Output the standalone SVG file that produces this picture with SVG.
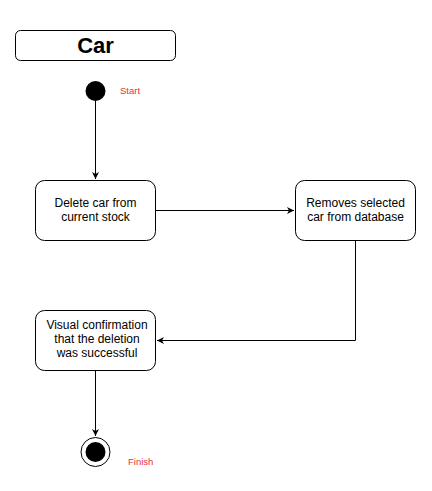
<svg xmlns="http://www.w3.org/2000/svg" width="432" height="491" viewBox="0 0 432 491">
<defs>
<marker id="ah" markerWidth="10" markerHeight="10" refX="8" refY="5" orient="auto" markerUnits="userSpaceOnUse">
<path d="M1,1.5 L8,5 L1,8.5 L3,5 Z" fill="#000"/>
</marker>
<style>
.box{fill:#fff;stroke:#000;stroke-width:1}
.t{font-family:"Liberation Sans",Arial,sans-serif;font-size:12px;fill:#000;text-anchor:middle}
.lbl{font-family:"Liberation Sans",Arial,sans-serif;font-size:9.5px;fill:#e8303a}
.c{fill:none;stroke:#000;stroke-width:1;marker-end:url(#ah)}
</style>
</defs>
<rect width="432" height="491" fill="#fff"/>
<g id="title">
<rect class="box" x="15.5" y="30.5" width="160" height="30" rx="5"/>
<text x="95.5" y="53" font-family="'Liberation Sans',Arial,sans-serif" font-size="22" font-weight="bold" text-anchor="middle">Car</text>
</g>
<g id="connectors">
<path class="c" d="M95.5,101 L95.5,179"/>
<path class="c" d="M155.5,210.5 L294,210.5"/>
<path class="c" d="M355.5,240 L355.5,340.5 L157,340.5"/>
<path class="c" d="M95.5,370 L95.5,436"/>
</g>
<g id="start">
<circle cx="95.5" cy="91" r="10" fill="#000"/>
<text class="lbl" x="120" y="94">Start</text>
</g>
<g id="delete">
<rect class="box" x="35.5" y="180.5" width="120" height="60" rx="9"/>
<text class="t" x="95.5" y="207">Delete car from</text>
<text class="t" x="95.5" y="221">current stock</text>
</g>
<g id="remove">
<rect class="box" x="295.5" y="180.5" width="120" height="60" rx="9"/>
<text class="t" x="355.5" y="207">Removes selected</text>
<text class="t" x="355.5" y="221">car from database</text>
</g>
<g id="confirm">
<rect class="box" x="35.5" y="310.5" width="120" height="60" rx="9"/>
<text class="t" x="97" y="329">Visual confirmation</text>
<text class="t" x="97" y="343">that the deletion</text>
<text class="t" x="97" y="357">was successful</text>
</g>
<g id="finish">
<circle cx="95.5" cy="452" r="14.5" fill="#fff" stroke="#000" stroke-width="1"/>
<circle cx="95.5" cy="452" r="10" fill="#000"/>
<text class="lbl" x="128" y="465">Finish</text>
</g>
</svg>
